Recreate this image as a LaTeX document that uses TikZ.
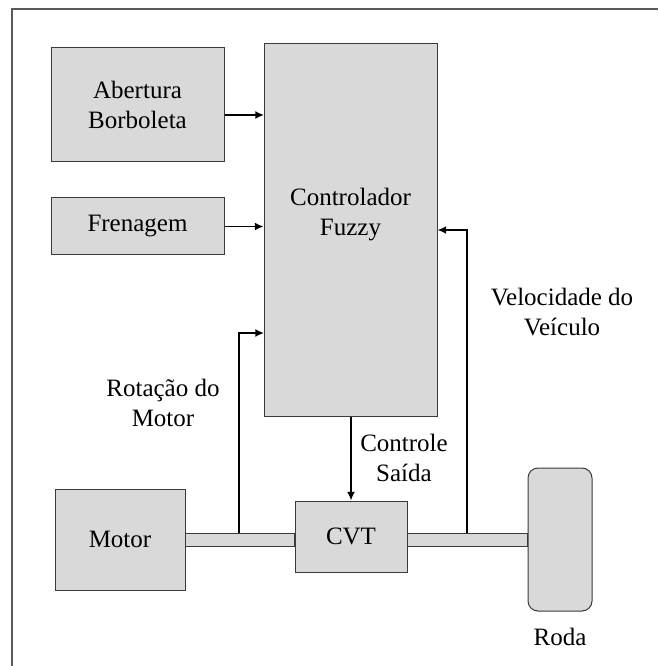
\documentclass[tikz,border=0pt]{standalone}
\usepackage{fontspec}
\setmainfont{Liberation Serif}
\usepackage{tikz}
\usetikzlibrary{calc,arrows.meta}
\definecolor{blockGrey}{HTML}{D9D9D9}
\definecolor{blockLine}{HTML}{3A3A3A}
\definecolor{frameGrey}{HTML}{5A5A5A}
\tikzset{
  blockbox/.style={rectangle, draw=blockLine, fill=blockGrey, line width=0.75pt, align=center, inner sep=0pt},
  wheelbox/.style={blockbox, rounded corners=7.5pt},
  shaftbar/.style={draw=blockLine, fill=blockGrey, line width=0.75pt},
  flowarrow/.style={-{Latex[length=6.5pt,width=6pt]}, line width=1.4pt, draw=black},
  txtlabel/.style={align=center, inner sep=0pt},
  framerule/.style={draw=frameGrey, line width=1.5pt},
}
\begin{document}
\begin{tikzpicture}[x=0.75pt,y=-0.75pt, font=\fontsize{18.75pt}{22.5pt}\selectfont]
  \useasboundingbox (0,0) rectangle (658,666);
  \draw[framerule] (12,666) -- (12,9) -- (658,9);

  \node[blockbox, minimum width=129.75pt, minimum height=85.5pt] (aber) at (137.5,105) {Abertura\\Borboleta};
  \node[blockbox, minimum width=129.75pt, minimum height=42.75pt] (fren) at (137.5,226.5) {Frenagem};
  \node[blockbox, minimum width=129.75pt, minimum height=279pt] (ctrl) at (350.5,230) {};
  \node[txtlabel] (ctrltxt) at (350.5,215) {Controlador\\Fuzzy};
  \node[blockbox, minimum width=97.5pt, minimum height=75.75pt] (motor) at (120,539.5) {Motor};
  \node[blockbox, minimum width=84pt, minimum height=53.25pt] (cvt) at (351,536.5) {CVT};
  \node[wheelbox, minimum width=48pt, minimum height=107.25pt] (roda) at (560,539.5) {};

  \node[txtlabel] (rotlbl) at (163,403) {Rotação do\\Motor};
  \node[txtlabel] (vellbl) at (562,312) {Velocidade do\\Veículo};
  \node[txtlabel] (ctllbl) at (404,458) {Controle\\Saída};
  \node[txtlabel] (rodalbl) at (560,637) {Roda};

  % --- eixos ---
  \draw[shaftbar] (motor.east |- 0,533) rectangle (cvt.west |- 0,546);
  \draw[shaftbar] (cvt.east |- 0,533) rectangle (roda.west |- 0,546);

  \coordinate (in1) at (264,115);
  \coordinate (rin) at (264,333);
  \coordinate (rtap) at (239,533);
  \coordinate (vtap) at (467,533);

  \draw[flowarrow] (aber.east |- in1) -- (in1);
  \draw[flowarrow] (fren.east) -- (fren.east -| ctrl.west);
  \draw[flowarrow] (rtap) |- (rin);
  \draw[flowarrow] (vtap) |- (ctrl.east);
  \draw[flowarrow] (ctrl.south -| cvt.north) -- (cvt.north);
\end{tikzpicture}
\end{document}
